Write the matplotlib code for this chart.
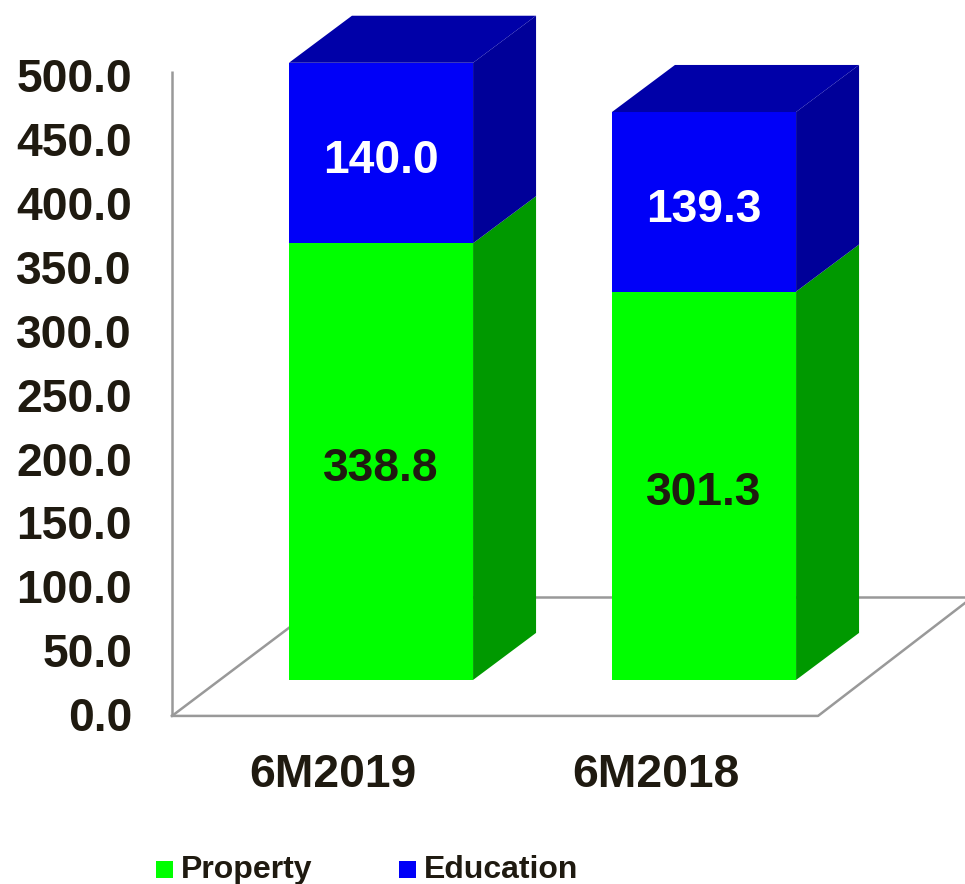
import matplotlib
matplotlib.use("Agg")
import matplotlib.pyplot as plt
from matplotlib.patches import Polygon

plt.rcParams['font.family'] = ['Liberation Sans', 'DejaVu Sans']

categories = ['6M2019', '6M2018']
property_vals = [338.8, 301.3]
education_vals = [140.0, 139.3]
y_ticks = [0, 50, 100, 150, 200, 250, 300, 350, 400, 450, 500]
legend_names = ['Property', 'Education']

GREEN = '#00ff00'
GREEN_SIDE = '#009900'
BLUE = '#0000f8'
BLUE_SIDE = '#000099'
BLUE_TOP = '#0000a8'
INK = '#1f1a10'
WALL = '#999999'

# 3d look: depth of the box, and how far the floor sits below the bars
bar_w = 0.57
dx = 0.195
dy = 36.5
floor = -27.9
floor_back = 64.4


def box(ax, x, bottom, height, front, side, top=None):
    l, r = x - bar_w / 2, x + bar_w / 2
    t = bottom + height
    ax.add_patch(Polygon([(r, bottom), (r + dx, bottom + dy), (r + dx, t + dy), (r, t)],
                         fc=side, ec='none', zorder=4))
    ax.add_patch(Polygon([(l, bottom), (r, bottom), (r, t), (l, t)],
                         fc=front, ec='none', zorder=5))
    if top:
        ax.add_patch(Polygon([(l, t), (r, t), (r + dx, t + dy), (l + dx, t + dy)],
                             fc=top, ec='none', zorder=5))


fig = plt.figure(figsize=(9.65, 8.84), dpi=100)
ax = fig.add_axes([0, 0, 1, 1])
ax.set_xlim(-1.1796, 1.8080)
ax.set_ylim(-158.3, 527.5)
ax.axis('off')

# floor and wall lines
x0 = -0.647
x1 = 1.353
ax.plot([x0, x0], [floor, floor + 500], color=WALL, lw=1.8, zorder=1, solid_capstyle='butt')
ax.plot([x0, x1, 1.808], [floor, floor, 59.7], color=WALL, lw=1.8, zorder=1)
ax.plot([x0, -0.158], [floor, floor_back], color=WALL, lw=1.8, zorder=1)
ax.plot([-0.158, 1.808], [floor_back, floor_back], color=WALL, lw=1.8, zorder=1)

for i, cat in enumerate(categories):
    p, e = property_vals[i], education_vals[i]
    box(ax, i, 0, p, GREEN, GREEN_SIDE)
    box(ax, i, p, e, BLUE, BLUE_SIDE, BLUE_TOP)
    ax.text(i, p / 2 - 6, '%.1f' % p, ha='center', va='center', fontsize=33.3, fontweight='bold', color=INK, zorder=6)
    ax.text(i, p + e / 2 - 6, '%.1f' % e, ha='center', va='center', fontsize=33.3, fontweight='bold', color='white', zorder=6)
    ax.text(i - 0.148, floor - 46, cat, ha='center', va='center', fontsize=33.3, fontweight='bold', color=INK)

for v in y_ticks:
    ax.text(x0 - 0.124, floor + v * 0.9925 - 2.7, '%.1f' % v, ha='right', va='center', fontsize=33.3, fontweight='bold', color=INK)

# legend along the bottom edge
ax.scatter([-0.670, 0.082], [-147.4, -147.4], marker='s', s=150, c=[GREEN, BLUE], linewidths=0, clip_on=False)
ax.text(-0.619, -153.6, legend_names[0], ha='left', va='baseline', fontsize=23, fontweight='bold', color=INK)
ax.text(0.133, -153.6, legend_names[1], ha='left', va='baseline', fontsize=23, fontweight='bold', color=INK)

fig.savefig('out.png', dpi=100)
